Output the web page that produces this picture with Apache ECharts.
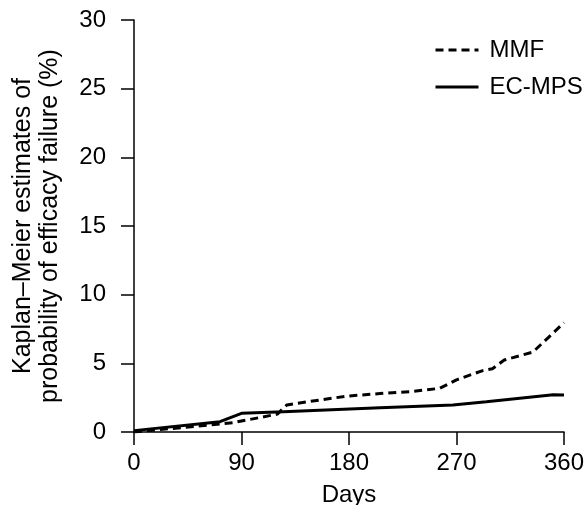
<!DOCTYPE html>
<html>
<head>
<meta charset="utf-8">
<script src="https://cdn.jsdelivr.net/npm/echarts@6/dist/echarts.min.js"></script>
<style>
html,body{margin:0;padding:0;background:#fff;}
#chart{width:586px;height:505px;}
</style>
</head>
<body>
<div id="chart"></div>
<script>
const xTicks = [0, 90, 180, 270, 360];
const yTicks = [0, 5, 10, 15, 20, 25, 30];
const seriesNames = ['MMF', 'EC-MPS'];
const mmfDays   = [0, 72, 83, 120, 128, 145, 179, 206, 232, 256, 270, 292, 300, 310, 334, 360];
const mmfValues = [0, 0.58, 0.68, 1.3, 1.97, 2.2, 2.62, 2.8, 2.94, 3.18, 3.8, 4.47, 4.6, 5.24, 5.82, 7.96];
const ecDays    = [0, 72, 90, 125, 206, 267, 295, 351, 360];
const ecValues  = [0.1, 0.75, 1.36, 1.48, 1.77, 1.97, 2.2, 2.72, 2.7];

const font = "'Liberation Sans', Arial, Helvetica, sans-serif";
const pair = (xs, ys) => xs.map((x, i) => [x, ys[i]]);

const chart = echarts.init(document.getElementById('chart'), null, {renderer: 'canvas'});
chart.setOption({
  animation: false,
  backgroundColor: '#fff',
  grid: {left: 134, right: 22, top: 20, bottom: 73, containLabel: false, outerBoundsMode: 'none'},
  legend: {
    orient: 'vertical',
    left: 429,
    top: 33,
    itemWidth: 43,
    itemHeight: 14,
    itemGap: 13,
    data: seriesNames,
    itemStyle: {opacity: 0},
    lineStyle: {width: 3},
    textStyle: {fontFamily: font, fontSize: 24, color: '#000', padding: [0, 0, 0, 6]}
  },
  xAxis: {
    type: 'value',
    min: xTicks[0],
    max: xTicks[xTicks.length - 1],
    interval: 90,
    name: 'Days',
    nameLocation: 'middle',
    nameGap: 51,
    nameTextStyle: {fontFamily: font, fontSize: 24, color: '#000'},
    axisLine: {show: true, lineStyle: {color: '#000', width: 1.5}},
    axisTick: {show: true, inside: false, length: 13, lineStyle: {color: '#000', width: 1.5}},
    axisLabel: {fontFamily: font, fontSize: 24, color: '#000', margin: 19},
    splitLine: {show: false}
  },
  yAxis: {
    type: 'value',
    min: yTicks[0],
    max: yTicks[yTicks.length - 1],
    interval: 5,
    name: 'Kaplan–Meier estimates of\nprobability of efficacy failure (%)',
    nameLocation: 'middle',
    nameGap: 70,
    nameTextStyle: {fontFamily: font, fontSize: 25, color: '#000', lineHeight: 27},
    axisLine: {show: true, lineStyle: {color: '#000', width: 1.5}},
    axisTick: {show: true, inside: false, length: 13, lineStyle: {color: '#000', width: 1.5}},
    axisLabel: {fontFamily: font, fontSize: 24, color: '#000', margin: 28},
    splitLine: {show: false}
  },
  series: [
    {
      name: seriesNames[0],
      type: 'line',
      data: pair(mmfDays, mmfValues),
      showSymbol: false,
      symbol: 'none',
      lineStyle: {color: '#000', width: 3, type: [8, 5]},
      itemStyle: {color: '#000'}
    },
    {
      name: seriesNames[1],
      type: 'line',
      data: pair(ecDays, ecValues),
      showSymbol: false,
      symbol: 'none',
      lineStyle: {color: '#000', width: 3, type: 'solid'},
      itemStyle: {color: '#000'}
    }
  ]
});
</script>
</body>
</html>
